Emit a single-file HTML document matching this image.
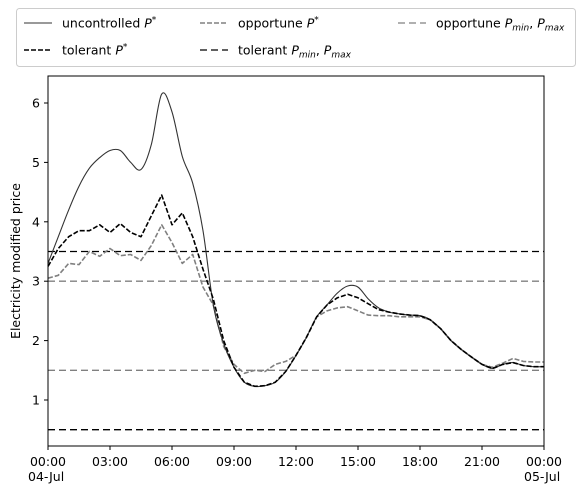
<!DOCTYPE html>
<html><head><meta charset="utf-8"><style>
body{margin:0;background:#fff;font-family:"Liberation Sans","DejaVu Sans",sans-serif}
svg text{font-family:"DejaVu Sans","Liberation Sans",sans-serif;font-size:12.5px}
</style></head><body>
<svg id="c" width="586" height="496"></svg>
<script>
const hours=[];for(let i=0;i<=48;i++)hours.push(i/2);
const uncontrolled=[3.3,3.75,4.2,4.6,4.9,5.08,5.2,5.2,5.0,4.88,5.3,6.15,5.85,5.1,4.65,3.85,2.6,1.95,1.55,1.3,1.23,1.24,1.3,1.48,1.75,2.05,2.4,2.6,2.8,2.92,2.9,2.7,2.55,2.48,2.45,2.43,2.42,2.35,2.2,2.0,1.85,1.72,1.6,1.53,1.6,1.63,1.58,1.56,1.56];
const tolerant=[3.25,3.55,3.75,3.85,3.85,3.95,3.82,3.97,3.82,3.75,4.1,4.45,3.95,4.15,3.75,3.2,2.7,2.0,1.55,1.3,1.23,1.24,1.3,1.48,1.75,2.05,2.4,2.6,2.72,2.78,2.72,2.62,2.52,2.48,2.45,2.43,2.42,2.35,2.2,2.0,1.85,1.72,1.6,1.53,1.6,1.63,1.58,1.56,1.56];
const opportune=[3.05,3.1,3.3,3.28,3.5,3.42,3.55,3.43,3.45,3.35,3.6,3.95,3.65,3.3,3.45,2.9,2.6,1.9,1.6,1.45,1.5,1.48,1.6,1.65,1.75,2.05,2.4,2.5,2.55,2.57,2.5,2.43,2.42,2.42,2.4,2.4,2.4,2.35,2.2,2.0,1.85,1.72,1.6,1.55,1.62,1.7,1.65,1.64,1.64];
const tolerantBounds=[0.5,3.5];
const opportuneBounds=[1.5,3.0];
const yTicks=[1,2,3,4,5,6];
const xTicks=[0,3,6,9,12,15,18,21,24];
const xTickLabels=["00:00","03:00","06:00","09:00","12:00","15:00","18:00","21:00","00:00"];
const L=48,R=544,T=76,B=446;
const X=h=>L+h*(R-L)/24;
const Y=v=>400-(v-1)*59.4;
const svg=document.getElementById('c');const NS='http://www.w3.org/2000/svg';
function mk(t,a,p){const e=document.createElementNS(NS,t);for(const k in a)e.setAttribute(k,a[k]);(p||svg).appendChild(e);return e;}
tolerantBounds.forEach(v=>{const e=mk('line',{x1:L,x2:R,y1:Y(v),y2:Y(v),stroke:'#000','stroke-width':1.3,'stroke-dasharray':'7 4'});

});
opportuneBounds.forEach(v=>{const e=mk('line',{x1:L,x2:R,y1:Y(v),y2:Y(v),stroke:'#808080','stroke-width':1.3,'stroke-dasharray':'7 4'});

});
function series(arr,st,w,da,name,smooth){
const P=arr.map((v,i)=>[X(hours[i]),Y(v)]);let d='M'+P[0][0].toFixed(1)+','+P[0][1].toFixed(1);
for(let i=1;i<P.length;i++){
 if(smooth){const p0=P[Math.max(i-2,0)],p1=P[i-1],p2=P[i],p3=P[Math.min(i+1,P.length-1)];
  const c1=[p1[0]+(p2[0]-p0[0])/6,p1[1]+(p2[1]-p0[1])/6],c2=[p2[0]-(p3[0]-p1[0])/6,p2[1]-(p3[1]-p1[1])/6];
  d+='C'+c1.map(n=>n.toFixed(1))+' '+c2.map(n=>n.toFixed(1))+' '+p2.map(n=>n.toFixed(1));}
 else d+='L'+P[i][0].toFixed(1)+','+P[i][1].toFixed(1);}
const e=mk('path',{d:d,fill:'none',stroke:st,'stroke-width':w,'stroke-dasharray':da||'none','stroke-linejoin':'round'});

}
series(opportune,'#808080',1.6,'5 2','opportune-line',false);
series(uncontrolled,'#333',1.1,null,'uncontrolled-line',true);
series(tolerant,'#000',1.6,'5 2','tolerant-line',false);
mk('rect',{x:L,y:T,width:R-L,height:B-T,fill:'none',stroke:'#000','stroke-width':1});
yTicks.forEach(v=>{mk('line',{x1:L-4,x2:L,y1:Y(v),y2:Y(v),stroke:'#000'});
const t=mk('text',{x:L-8,y:Y(v)+4.5,'text-anchor':'end'});t.textContent=v;

});
xTicks.forEach((h,i)=>{mk('line',{x1:X(h),x2:X(h),y1:B,y2:B+4,stroke:'#000'});
const t=mk('text',{x:X(h),y:B+20,'text-anchor':'middle'});t.textContent=xTickLabels[i];

});
const d1=mk('text',{x:L-20,y:B+35});d1.textContent='04-Jul';
const d2=mk('text',{x:R-20,y:B+35});d2.textContent='05-Jul';
const yl=mk('text',{x:0,y:0,transform:'translate(20,261) rotate(-90)','text-anchor':'middle'});yl.textContent='Electricity modified price';


const lg=mk('g',{});


mk('rect',{x:16.5,y:8.5,width:559,height:58,rx:3,fill:'#fff',stroke:'#ccc'},lg);
const ents=[[24,23,'#333',1.1,null,'uncontrolled ','P','*',''],[24,50,'#000',1.6,'5 2','tolerant ','P','*',''],
[200,23,'#808080',1.6,'5 2','opportune ','P','*',''],[200,50,'#000',1.3,'7 4','tolerant ','P','min','max'],[398,23,'#808080',1.3,'7 4','opportune ','P','min','max']];
ents.forEach(e=>{mk('line',{x1:e[0],x2:e[0]+28,y1:e[1],y2:e[1],stroke:e[2],'stroke-width':e[3],'stroke-dasharray':e[4]||'none'},lg);
const t=mk('text',{x:e[0]+38,y:e[1]+4.5},lg);


t.appendChild(document.createTextNode(e[5]));
const p=mk('tspan',{'font-style':'italic'},t);p.textContent='P';
if(e[8]){const s=mk('tspan',{'font-style':'italic','font-size':'9px',dy:3},t);s.textContent='min';
const c=mk('tspan',{dy:-3},t);c.textContent=', ';
const p2=mk('tspan',{'font-style':'italic'},t);p2.textContent='P';
const s2=mk('tspan',{'font-style':'italic','font-size':'9px',dy:3},t);s2.textContent='max';}
else{const s=mk('tspan',{'font-size':'9px',dy:-5},t);s.textContent='*';}});
</script>
</body></html>
